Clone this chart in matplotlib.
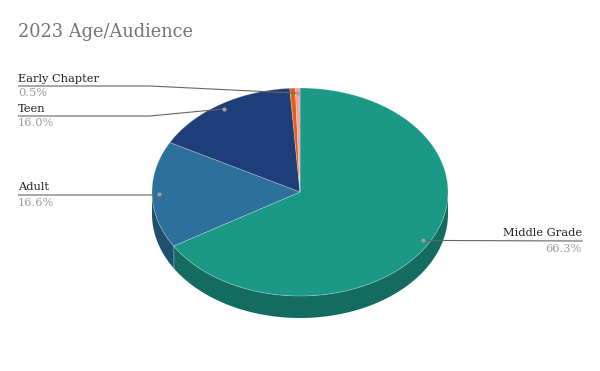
import numpy as np
import matplotlib
matplotlib.use("Agg")
import matplotlib.pyplot as plt
from matplotlib.patches import Polygon

# ---- data ----
categories = ["Middle Grade", "Adult", "Teen", "Other", "Early Chapter"]
values = [66.3, 16.6, 16.0, 0.6, 0.5]
show_label = [True, True, True, False, True]
title = "2023 Age/Audience"

colors = ["#1b9886", "#2d709b", "#1f3d78", "#e3600f", "#f4a1a8"]
side_colors = ["#146c60", "#1f4f6e", "#162b55", "#a1440b", "#ad7277"]

FONT = "DejaVu Serif"

fig = plt.figure(figsize=(6, 3.71), dpi=100)
ax = fig.add_axes([0, 0, 1, 1])
ax.set_xlim(0, 600)
ax.set_ylim(371, 0)
ax.axis("off")

cx, cy, rx, ry, depth = 300, 192, 148, 104, 22


def pt(t, f=1.0, dy=0.0):
    r = np.radians(t)
    return cx + rx * f * np.sin(r), cy - ry * f * np.cos(r) + dy


def arc(t0, t1, dy=0.0):
    n = max(2, int(abs(t1 - t0) * 2) + 2)
    ts = np.linspace(t0, t1, n)
    xs, ys = pt(ts, 1.0, dy)
    return np.column_stack([xs, ys])


total = sum(values)
bounds = np.concatenate([[0], np.cumsum(values) / total * 360])

# sides (front rim)
for i in range(len(values)):
    t0, t1 = bounds[i], bounds[i + 1]
    s0, s1 = max(t0, 90), min(t1, 270)
    if s0 < s1:
        top = arc(s0, s1)
        bot = arc(s1, s0, depth)
        ax.add_patch(Polygon(np.vstack([top, bot]), closed=True,
                             facecolor=side_colors[i], edgecolor="none"))
        ax.plot([pt(s0)[0], pt(s0)[0]], [pt(s0)[1], pt(s0)[1] + depth],
                color="white", alpha=0.15, lw=0.5)

# top wedges
for i in range(len(values)):
    t0, t1 = bounds[i], bounds[i + 1]
    pts = np.vstack([[cx, cy], arc(t0, t1)])
    ax.add_patch(Polygon(pts, closed=True, facecolor=colors[i],
                         edgecolor=(1, 1, 1, 0.35), lw=0.5))

# labels
name_col = "#222222"
pct_col = "#9e9e9e"
line_col = "#666666"
dot_col = "#a0a0a0"

left_slots = {"Early Chapter": 86, "Teen": 116, "Adult": 195}
right_slots = {"Middle Grade": 241}

for i, name in enumerate(categories):
    if not show_label[i]:
        continue
    mid = (bounds[i] + bounds[i + 1]) / 2
    dx, dyy = pt(mid, 0.95)
    pct = f"{values[i] / total * 100:.1f}%"
    if name in left_slots:
        ly = left_slots[name]
        ax.plot([18, min(150, dx), dx], [ly, ly, dyy], color=line_col, lw=0.8,
                solid_capstyle="butt")
        ax.text(18, ly - 2.5, name, ha="left", va="bottom", fontsize=8.2,
                color=name_col, family=FONT)
        ax.text(18, ly + 2.5, pct, ha="left", va="top", fontsize=8.2,
                color=pct_col, family=FONT)
    else:
        ly = right_slots[name]
        ax.plot([dx, 582], [dyy, ly], color=line_col, lw=0.8)
        ax.text(582, ly - 2.5, name, ha="right", va="bottom", fontsize=8.2,
                color=name_col, family=FONT)
        ax.text(582, ly + 2.5, pct, ha="right", va="top", fontsize=8.2,
                color=pct_col, family=FONT)
    ax.plot([dx], [dyy], "o", ms=3, color=dot_col, mec="none")

ax.text(18, 32, title, ha="left", va="center", fontsize=12.8,
        color="#757575", family=FONT)

fig.savefig("out.png", dpi=100, facecolor="white")
